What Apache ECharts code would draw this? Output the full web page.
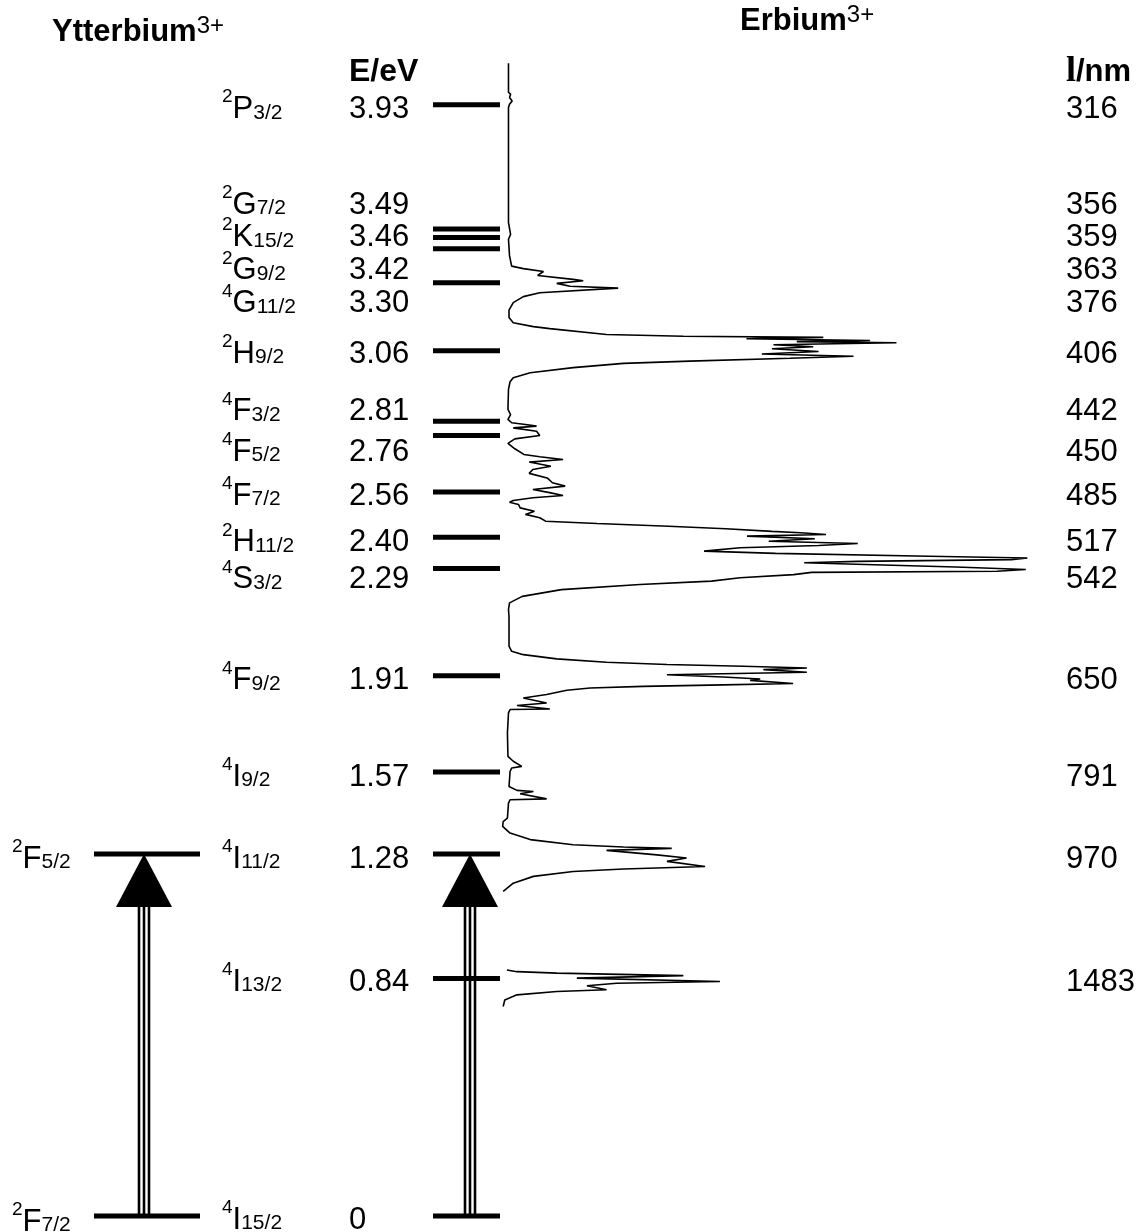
<!DOCTYPE html>
<html>
<head>
<meta charset="utf-8">
<title>Yb3+ / Er3+ energy levels</title>
<script src="https://cdn.jsdelivr.net/npm/echarts@6/dist/echarts.min.js"></script>
<style>
  html, body { margin: 0; padding: 0; background: #fff; }
  #chart { width: 1148px; height: 1232px; }
</style>
</head>
<body>
<div id="chart"></div>
<script>
// ---- Er3+ levels: energy (eV), term symbol, wavelength (nm)
const erEnergy = [3.93, 3.49, 3.46, 3.42, 3.30, 3.06, 2.81, 2.76, 2.56, 2.40, 2.29, 1.91, 1.57, 1.28, 0.84, 0];
const erTerm = ['2P3/2', '2G7/2', '2K15/2', '2G9/2', '4G11/2', '2H9/2', '4F3/2', '4F5/2', '4F7/2',
                '2H11/2', '4S3/2', '4F9/2', '4I9/2', '4I11/2', '4I13/2', '4I15/2'];
const erWavelength = [316, 356, 359, 363, 376, 406, 442, 450, 485, 517, 542, 650, 791, 970, 1483, null];

// ---- Yb3+ levels
const ybEnergy = [1.28, 0];
const ybTerm = ['2F5/2', '2F7/2'];

// ---- pump transition (ground state -> 1.28 eV) drawn in both ions
const pumpFrom = 0;
const pumpTo = 1.28;

// ---- Er3+ absorption spectrum: photon energy (eV) and absorbance (a.u.); null splits the two scans
const specEnergy = [
  4.076, 3.973, 3.967, 3.955, 3.943, 3.931, 3.920, 3.513, 3.471, 3.454, 3.395, 3.359, 3.350, 3.340,
  3.326, 3.312, 3.307, 3.298, 3.288, 3.281, 3.265, 3.251, 3.230, 3.203, 3.177, 3.159, 3.145, 3.138,
  3.117, 3.111, 3.107, 3.102, 3.096, 3.092, 3.088, 3.081, 3.074, 3.067, 3.057, 3.048, 3.040, 3.033,
  3.023, 3.015, 3.000, 2.982, 2.964, 2.950, 2.923, 2.852, 2.834, 2.817, 2.805, 2.799, 2.793, 2.787,
  2.775, 2.760, 2.748, 2.732, 2.713, 2.693, 2.685, 2.675, 2.666, 2.651, 2.640, 2.626, 2.610, 2.593,
  2.581, 2.569, 2.557, 2.548, 2.540, 2.530, 2.524, 2.516, 2.504, 2.492, 2.481, 2.469, 2.457, 2.449,
  2.439, 2.430, 2.421, 2.416, 2.410, 2.404, 2.395, 2.386, 2.378, 2.371, 2.363, 2.351, 2.343, 2.333,
  2.327, 2.321, 2.315, 2.310, 2.304, 2.295, 2.286, 2.280, 2.276, 2.268, 2.257, 2.245, 2.233, 2.215,
  2.191, 2.168, 2.144, 2.121, 2.015, 1.997, 1.985, 1.970, 1.958, 1.950, 1.944, 1.938, 1.932, 1.923,
  1.914, 1.906, 1.899, 1.894, 1.883, 1.878, 1.873, 1.867, 1.859, 1.844, 1.832, 1.814, 1.805, 1.793,
  1.791, 1.779, 1.708, 1.625, 1.608, 1.590, 1.584, 1.572, 1.519, 1.505, 1.501, 1.493, 1.475, 1.472,
  1.460, 1.407, 1.395, 1.378, 1.354, 1.331, 1.313, 1.305, 1.300, 1.293, 1.277, 1.266, 1.254, 1.236,
  1.227, 1.218, 1.201, 1.177, 1.148,
  null,
  0.870, 0.864, 0.859, 0.850, 0.841, 0.829, 0.823, 0.814, 0.800, 0.794, 0.782, 0.764, 0.741
];
const specAbs = [
  1.6, 1.6, 2.0, 1.8, 2.3, 1.8, 1.6, 1.6, 2.0, 1.6, 1.8, 2.2, 4.4, 8.2,
  7.1, 13.8, 15.7, 10.7, 13.2, 22.3, 7.5, 4.4, 2.5, 1.7, 1.7, 2.5, 6.3, 9.4,
  20.1, 34.6, 61.0, 46.5, 69.8, 56.0, 74.8, 51.6, 59.1, 51.3, 60.1, 49.4, 66.7, 54.7,
  35.8, 23.3, 13.8, 5.7, 2.5, 1.9, 1.6, 1.5, 2.0, 1.5, 2.2, 4.8, 6.9, 2.5,
  6.9, 7.5, 2.8, 1.5, 2.8, 4.5, 7.5, 11.9, 5.5, 9.6, 6.2, 5.5, 8.9, 9.9,
  12.3, 6.2, 9.6, 11.9, 6.2, 2.5, 1.8, 3.5, 3.8, 6.5, 4.8, 7.5, 8.6, 18.3,
  31.8, 42.6, 51.3, 56.7, 61.5, 46.6, 59.4, 50.7, 67.5, 60.1, 45.3, 38.5, 52.0, 81.0,
  99.5, 96.5, 67.5, 57.4, 68.9, 86.0, 99.2, 93.8, 58.8, 55.4, 45.3, 39.9, 26.4, 11.6,
  4.2, 1.8, 1.6, 1.7, 1.7, 2.2, 4.4, 10.7, 20.1, 31.5, 45.9, 57.9, 49.7, 57.9,
  31.5, 42.1, 49.1, 47.2, 55.3, 42.1, 27.0, 17.0, 12.6, 8.8, 4.4, 8.8, 3.2, 9.4,
  1.9, 1.6, 1.4, 1.5, 2.5, 4.1, 2.2, 1.9, 1.7, 3.2, 6.3, 3.8, 8.8, 1.9,
  1.6, 1.4, 0.6, 0.5, 1.9, 5.7, 13.8, 23.3, 32.4, 20.1, 29.6, 35.2, 31.5, 38.7,
  23.3, 13.8, 6.3, 2.5, 0.6,
  null,
  1.3, 3.2, 10.7, 34.6, 14.5, 41.5, 22.0, 16.4, 20.1, 10.7, 3.2, 0.9, 0.6
];

// ---- layout (pixels on the 0..1148 layout axis)
const FONT = '"Liberation Sans", Arial, Helvetica, sans-serif';
const SERIF = '"Liberation Serif", "Times New Roman", serif';
const E_MAX = 4.3;
const YB_LINE = [94, 200];
const ER_LINE = [433, 500];
const YB_ARROW_X = 144;
const ER_ARROW_X = 470;
const YB_TERM_X = 12;
const TERM_X = 222;
const ENERGY_X = 349;
const WAVE_X = 1066;
const TEXT_SIZE = 31;
// vertical nudges (px) so crowded level labels do not collide
const LABEL_SHIFT = [5, -24, 0, 22, 21, 3.5, -9.5, 16.5, 4, 5.5, 11.5, 5, 5, 5, 3.5, 4];
const YB_LABEL_SHIFT = [5, 6];

// term symbol: superscript multiplicity, letter, subscript J sitting on the letter's baseline
const TERM_RICH = {
  sup:  { fontFamily: FONT, fontSize: 19, verticalAlign: 'top', color: '#000' },
  main: { fontFamily: FONT, fontSize: TEXT_SIZE, lineHeight: 44, verticalAlign: 'middle', color: '#000' },
  sub:  { fontFamily: FONT, fontSize: 21, verticalAlign: 'bottom', padding: [0, 0, 8, 0], color: '#000' }
};
function termText(t) {
  return '{sup|' + t[0] + '}{main|' + t[1] + '}{sub|' + t.slice(2) + '}';
}
function energyText(e) {
  return e === 0 ? '0' : e.toFixed(2);
}

function labelSeries(xPos, energies, shifts, formatter, labelExtra) {
  return {
    type: 'scatter', xAxisIndex: 0, yAxisIndex: 0, silent: true, z: 5,
    symbolSize: 0.01, itemStyle: { color: '#000' },
    data: energies.map((e, i) => ({ value: [xPos, e], label: { offset: [0, shifts[i]] } })),
    label: Object.assign({
      show: true, position: 'right', distance: 0, align: 'left', verticalAlign: 'middle',
      color: '#000', opacity: 1, fontFamily: FONT, fontSize: TEXT_SIZE, formatter
    }, labelExtra || {})
  };
}

function levelSeries(span, energies) {
  return {
    type: 'custom', xAxisIndex: 0, yAxisIndex: 0, silent: true, z: 3,
    data: energies.map(e => [span[0], span[1], e]),
    encode: { x: [0, 1], y: 2 },
    renderItem(params, api) {
      const a = api.coord([api.value(0), api.value(2)]);
      const b = api.coord([api.value(1), api.value(2)]);
      return { type: 'line', shape: { x1: a[0], y1: a[1], x2: b[0], y2: b[1] },
               style: { stroke: '#000', lineWidth: 5 } };
    }
  };
}

function arrowSeries(xPos) {
  return {
    type: 'custom', xAxisIndex: 0, yAxisIndex: 0, silent: true, z: 4,
    data: [[xPos, pumpFrom, pumpTo]],
    encode: { x: 0, y: [1, 2] },
    renderItem(params, api) {
      const tip = api.coord([api.value(0), api.value(2)]);
      const foot = api.coord([api.value(0), api.value(1)]);
      const headH = 53, headW = 28;
      const kids = [{
        type: 'polygon',
        shape: { points: [[tip[0], tip[1]], [tip[0] - headW, tip[1] + headH], [tip[0] + headW, tip[1] + headH]] },
        style: { fill: '#000' }
      }];
      [-5, 0, 5].forEach(dx => kids.push({
        type: 'line',
        shape: { x1: tip[0] + dx, y1: tip[1] + headH - 1, x2: tip[0] + dx, y2: foot[1] },
        style: { stroke: '#000', lineWidth: 2.6 }
      }));
      return { type: 'group', children: kids };
    }
  };
}

const spectrum = specEnergy.map((e, i) => (e === null ? ['-', '-'] : [specAbs[i], e]));

const HEAD_RICH = {
  b: { fontFamily: FONT, fontWeight: 'bold', fontSize: TEXT_SIZE, lineHeight: 36, verticalAlign: 'middle', fill: '#000' },
  s: { fontFamily: FONT, fontSize: 24, verticalAlign: 'top', fill: '#000' }
};

const chart = echarts.init(document.getElementById('chart'), null, { renderer: 'canvas' });
chart.setOption({
  animation: false,
  backgroundColor: '#fff',
  grid: [
    { left: 0, right: 0, top: 0, bottom: 16 },
    { left: 500, width: 530, top: 0, bottom: 16 }
  ],
  xAxis: [
    { type: 'value', gridIndex: 0, min: 0, max: 1148, show: false },
    { type: 'value', gridIndex: 1, min: 0, max: 100, show: false }
  ],
  yAxis: [
    { type: 'value', gridIndex: 0, min: 0, max: E_MAX, show: false },
    { type: 'value', gridIndex: 1, min: 0, max: E_MAX, show: false }
  ],
  graphic: [
    { type: 'text', style: { x: 52, y: 32, align: 'left', verticalAlign: 'middle',
        text: '{b|Ytterbium}{s|3+}', rich: HEAD_RICH } },
    { type: 'text', style: { x: 740, y: 21, align: 'left', verticalAlign: 'middle',
        text: '{b|Erbium}{s|3+}', rich: HEAD_RICH } },
    { type: 'text', style: { x: 349, y: 72, align: 'left', verticalAlign: 'middle',
        text: 'E/eV', font: 'bold 32px ' + FONT, fill: '#000' } },
    { type: 'text', style: { x: 1066, y: 72, align: 'left', verticalAlign: 'middle',
        text: '{l|l}{n|/nm}',
        rich: { l: { fontFamily: SERIF, fontWeight: 'bold', fontSize: 36, fill: '#000' },
                n: { fontFamily: FONT, fontWeight: 'bold', fontSize: 31, fill: '#000' } } } }
  ],
  series: [
    levelSeries(YB_LINE, ybEnergy),
    levelSeries(ER_LINE, erEnergy),
    arrowSeries(YB_ARROW_X),
    arrowSeries(ER_ARROW_X),
    {
      type: 'line', xAxisIndex: 1, yAxisIndex: 1, silent: true, z: 2,
      data: spectrum, showSymbol: false, symbol: 'none', connectNulls: false,
      lineStyle: { color: '#000', width: 1.6 }
    },
    labelSeries(TERM_X, erEnergy, LABEL_SHIFT, p => termText(erTerm[p.dataIndex]), { rich: TERM_RICH }),
    labelSeries(YB_TERM_X, ybEnergy, YB_LABEL_SHIFT, p => termText(ybTerm[p.dataIndex]), { rich: TERM_RICH }),
    labelSeries(ENERGY_X, erEnergy, LABEL_SHIFT, p => energyText(erEnergy[p.dataIndex])),
    labelSeries(WAVE_X, erEnergy.slice(0, erWavelength.length - 1), LABEL_SHIFT,
                p => String(erWavelength[p.dataIndex]))
  ]
});
</script>
</body>
</html>
